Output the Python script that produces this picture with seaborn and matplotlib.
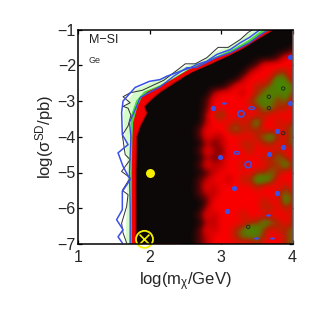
import numpy as np
import seaborn as sns
import matplotlib
matplotlib.use('Agg')
import matplotlib.pyplot as plt
from matplotlib.colors import LinearSegmentedColormap
from matplotlib.patches import Polygon
from matplotlib.path import Path
from matplotlib.transforms import Affine2D

# red / green likelihood field, columns x=2.5..4.0 step .1, rows y=-1..-7 step .2
# 0 black, 1-2 dark red, 3 red, 4-6 towards olive green
field_x = [2.5, 2.6, 2.7, 2.8, 2.9, 3.0, 3.1, 3.2, 3.3, 3.4, 3.5, 3.6, 3.7, 3.8, 3.9, 4.0]
field_y = [-1.0 - 0.2 * i for i in range(31)]
field = [
    [0, 0, 0, 0, 0, 0, 0, 0, 0, 0, 0, 0, 0, 0, 0, 0],
    [0, 0, 0, 0, 0, 0, 0, 0, 0, 0, 0, 0, 0, 0, 0, 0],
    [0, 0, 0, 0, 0, 0, 0, 0, 0, 0, 0, 0, 0, 0, 0, 0],
    [0, 0, 0, 0, 0, 0, 0, 0, 0, 0, 0, 0, 0, 0, 0, 1],
    [0, 0, 0, 0, 0, 0, 0, 0, 0, 0, 0, 0, 0, 1, 3, 3],
    [0, 0, 0, 0, 0, 0, 0, 0, 0, 0, 1, 3, 3, 3, 3, 3],
    [0, 0, 0, 0, 0, 0, 0, 0, 0, 2, 3, 3, 3, 4, 4, 3],
    [0, 0, 0, 0, 0, 0, 0, 0, 2, 3, 3, 3, 4, 6, 5, 3],
    [0, 0, 0, 0, 0, 0, 1, 3, 3, 3, 4, 4, 5, 6, 6, 5],
    [0, 0, 0, 0, 2, 3, 3, 3, 2, 3, 4, 5, 6, 5, 6, 4],
    [0, 0, 0, 1, 3, 3, 3, 3, 3, 4, 5, 6, 5, 4, 5, 3],
    [0, 0, 0, 1, 3, 3, 3, 3, 3, 3, 4, 5, 5, 4, 4, 3],
    [0, 0, 0, 2, 4, 5, 3, 3, 4, 3, 3, 4, 3, 3, 3, 3],
    [0, 0, 0, 2, 3, 3, 3, 4, 3, 4, 6, 3, 3, 4, 3, 4],
    [0, 0, 1, 3, 3, 3, 4, 5, 4, 4, 4, 3, 3, 3, 4, 5],
    [0, 0, 1, 3, 2, 2, 3, 3, 3, 3, 4, 5, 6, 4, 3, 5],
    [0, 0, 0, 2, 1, 2, 3, 3, 4, 4, 3, 4, 4, 3, 4, 5],
    [0, 0, 1, 3, 2, 1, 3, 3, 3, 4, 3, 3, 3, 4, 3, 3],
    [0, 0, 0, 2, 1, 2, 3, 3, 3, 3, 3, 4, 4, 5, 4, 3],
    [0, 0, 1, 3, 2, 2, 3, 3, 4, 3, 3, 3, 4, 4, 6, 4],
    [0, 0, 0, 1, 2, 3, 3, 3, 3, 3, 4, 4, 5, 4, 3, 3],
    [0, 0, 1, 2, 3, 3, 2, 3, 4, 4, 6, 6, 5, 3, 3, 3],
    [0, 0, 1, 3, 2, 3, 3, 3, 3, 3, 4, 3, 3, 3, 4, 3],
    [0, 0, 1, 2, 2, 3, 3, 3, 3, 3, 3, 3, 3, 4, 5, 4],
    [0, 0, 0, 1, 3, 3, 3, 3, 3, 3, 3, 4, 3, 3, 6, 4],
    [0, 0, 0, 2, 3, 3, 3, 3, 3, 3, 3, 4, 4, 3, 4, 3],
    [0, 0, 1, 3, 2, 3, 3, 3, 4, 3, 3, 3, 3, 3, 3, 4],
    [0, 0, 0, 2, 2, 3, 3, 3, 3, 4, 4, 6, 5, 4, 3, 4],
    [0, 0, 1, 3, 2, 3, 3, 4, 5, 6, 6, 4, 3, 4, 4, 5],
    [0, 0, 1, 2, 3, 3, 3, 4, 5, 5, 5, 4, 3, 3, 4, 5],
    [0, 0, 1, 2, 3, 3, 3, 3, 3, 3, 4, 3, 3, 3, 4, 5],
]

# nested regions, edge read bottom-left, up, then along the top
light_x = [1.67, 1.69, 1.70, 1.67, 1.64, 1.70, 1.82, 2.05, 2.30, 2.50, 2.70, 2.95, 3.15, 3.32, 3.50, 4, 4]
light_y = [-7, -6, -5, -4, -3.4, -3, -2.68, -2.48, -2.25, -2.05, -1.92, -1.62, -1.45, -1.2, -1, -1, -7]
green_x = [1.73, 1.74, 1.74, 1.74, 1.75, 1.82, 1.93, 2.14, 2.35, 2.55, 2.78, 2.98, 3.18, 3.38, 3.60, 4, 4]
green_y = [-7, -6, -5, -4, -3.4, -3, -2.75, -2.58, -2.36, -2.12, -1.91, -1.73, -1.55, -1.32, -1, -1, -7]
red_x = [1.76, 1.76, 1.77, 1.78, 1.84, 1.90, 1.98, 2.15, 2.35, 2.55, 2.80, 3.00, 3.20, 3.40, 3.55, 3.72, 4, 4]
red_y = [-7, -5, -4, -3.6, -3.15, -2.9, -2.75, -2.6, -2.38, -2.14, -1.92, -1.75, -1.6, -1.38, -1.15, -1, -1, -7]
black_x = [1.81, 1.81, 1.82, 1.87, 1.96, 1.93, 2.03, 2.15, 2.38, 2.60, 2.85, 3.10, 3.30, 3.50, 3.75, 4, 4]
black_y = [-7, -5, -4, -3.7, -3.35, -3.15, -2.95, -2.75, -2.45, -2.2, -1.98, -1.75, -1.55, -1.3, -1, -1, -7]

# contour lines
blue_outer_x = [1.62, 1.56, 1.63, 1.54, 1.62, 1.62, 1.73, 1.63, 1.56, 1.70, 1.62, 1.61, 1.63, 1.80, 2.00, 2.15,
                2.24, 2.43, 2.57, 2.66, 2.80, 2.94, 3.13, 3.27, 3.40, 3.55]
blue_outer_y = [-6.97, -6.8, -6.6, -6.32, -6.04, -5.53, -5.2, -4.83, -4.45, -4.22, -3.94, -3.33, -3.0, -2.62,
                -2.45, -2.4, -2.31, -2.17, -2.07, -1.98, -1.89, -1.7, -1.56, -1.37, -1.22, -1.0]
blue_inner_x = [1.73, 1.73, 1.72, 1.74, 1.72, 1.80, 1.87, 2.15, 2.33, 2.52, 2.66, 2.94, 3.13, 3.40, 3.66]
blue_inner_y = [-7, -6, -5, -4, -3.6, -3.24, -2.9, -2.6, -2.32, -2.07, -2.06, -1.78, -1.65, -1.37, -1.0]
black_line_x = [1.68, 1.63, 1.61, 1.68, 1.70, 1.62, 1.73, 1.61, 1.73, 1.66, 1.62, 1.70, 1.74, 1.70, 1.63, 1.73,
                1.63, 1.73, 1.90, 2.20, 2.43, 2.50, 2.64, 2.80, 2.96, 3.10, 3.27, 3.38, 3.45]
black_line_y = [-6.97, -6.69, -6.42, -5.95, -5.62, -5.5, -5.15, -4.97, -4.64, -4.5, -3.95, -3.7, -3.4, -3.2,
                -3.15, -3.05, -2.88, -2.77, -2.7, -2.42, -2.07, -1.96, -1.96, -1.79, -1.5, -1.5, -1.28, -1.08, -1.0]

# small isolated contours inside the red area
dot_x = [2.89, 3.97, 3.97, 3.18, 3.09, 3.78, 3.87, 3.67, 3.78, 2.99]
dot_y = [-3.2, -1.78, -3.05, -5.43, -6.07, -5.57, -4.3, -4.47, -3.83, -4.58]
wide_x = [3.04, 3.66, 3.71, 3.49]
wide_y = [-3.05, -6.2, -6.83, -6.83]
ring_x = [3.43, 3.22]
ring_y = [-3.2, -4.45]
round_ring_x = [3.28, 3.38]
round_ring_y = [-3.36, -4.78]
black_ring_x = [3.67, 3.67, 3.87, 3.38, 3.87]
black_ring_y = [-2.88, -3.2, -2.65, -6.52, -3.9]

best_x = [2.0]
best_y = [-5.0]
cross_x = [1.93]
cross_y = [-6.87]

x_ticks = [1, 2, 3, 4]
y_ticks = [-7, -6, -5, -4, -3, -2, -1]

sns.set_style('ticks')
plt.rcParams['font.family'] = ['Liberation Sans', 'DejaVu Sans']
plt.rcParams['mathtext.fontset'] = 'custom'
plt.rcParams['mathtext.rm'] = 'Liberation Sans'
plt.rcParams['mathtext.it'] = 'Liberation Sans'
plt.rcParams['mathtext.default'] = 'regular'

fig = plt.figure(figsize=(3.22, 3.22), dpi=100)
ax = fig.add_axes([78 / 322, 1 - 244 / 322, 214.5 / 322, 214.5 / 322])

ax.fill(light_x, light_y, color='#d4fbc8', lw=0.8, zorder=1)
ax.fill(green_x, green_y, color='#48d838', lw=0.8, zorder=1.1)
ax.fill(red_x, red_y, color='#f00000', lw=0.8, zorder=1.2)
black_poly = Polygon(list(zip(black_x, black_y)), closed=True, fc='#0c0808', ec='#a00000', lw=0.8, zorder=1.3)
ax.add_patch(black_poly)

cmap = LinearSegmentedColormap.from_list('field', [
    (0.0, '#0c0808'), (1 / 6, '#5a0404'), (2 / 6, '#c00000'), (3 / 6, '#fa0000'),
    (4 / 6, '#b02400'), (5 / 6, '#5f7000'), (1.0, '#3f8f00')])
img = ax.imshow(field, cmap=cmap, vmin=0, vmax=6, interpolation='bicubic', aspect='auto', zorder=1.4,
                extent=(field_x[0] - 0.05, field_x[-1] + 0.05, field_y[-1] - 0.1, field_y[0] + 0.1))
img.set_clip_path(Polygon(list(zip(black_x, black_y)), closed=True, transform=ax.transData))

blue = '#3a50e8'
sns.lineplot(x=black_line_x, y=black_line_y, sort=False, estimator=None, color='#303030', lw=0.7, ax=ax, zorder=3)
sns.lineplot(x=blue_inner_x, y=blue_inner_y, sort=False, estimator=None, color=blue, lw=1.0, ax=ax, zorder=3.1)
sns.lineplot(x=blue_outer_x, y=blue_outer_y, sort=False, estimator=None, color=blue, lw=1.1, ax=ax, zorder=3.2)

wide = Path.unit_circle().transformed(Affine2D().scale(2.0, 1.0))
sns.scatterplot(x=dot_x, y=dot_y, s=14, color=blue, linewidth=0, ax=ax, zorder=3)
sns.scatterplot(x=wide_x, y=wide_y, s=12, marker=wide, color=blue, linewidth=0, ax=ax, zorder=3)
sns.scatterplot(x=ring_x, y=ring_y, s=16, marker=wide, facecolor='none', edgecolor=blue, linewidth=1.0, ax=ax, zorder=3)
sns.scatterplot(x=round_ring_x, y=round_ring_y, s=20, facecolor='none', edgecolor=blue, linewidth=1.2, ax=ax, zorder=3)
sns.scatterplot(x=black_ring_x, y=black_ring_y, s=6, facecolor='none', edgecolor='#202020', linewidth=0.6, ax=ax, zorder=3)

sns.scatterplot(x=best_x, y=best_y, s=42, color='#f5f000', linewidth=0, ax=ax, zorder=4)
sns.scatterplot(x=cross_x, y=cross_y, s=150, facecolor='none', edgecolor='#f5f000', linewidth=1.3, ax=ax, zorder=4,
                clip_on=False)
sns.scatterplot(x=cross_x, y=cross_y, s=50, marker='x', color='#f5f000', linewidth=1.2, ax=ax, zorder=4, clip_on=False)

ax.text(1.15, -1.3, 'M\u2212SI', fontsize=9, va='center', ha='left', color='#202020')
ax.text(1.15, -1.87, 'Ge', fontsize=6.5, va='center', ha='left', color='#303030')

ax.set_xlim(1, 4)
ax.set_ylim(-7, -1)
ax.set_xticks(x_ticks)
ax.set_yticks(y_ticks)
ax.tick_params(direction='in', top=True, right=True, length=3, width=0.9, labelsize=11.5, color='black')
ax.tick_params(axis='x', pad=4)
ax.tick_params(axis='y', pad=1.5)
ax.set_xlabel(r'log(m$_{\chi}$/GeV)', fontsize=12, labelpad=4)
ax.set_ylabel(r'log($\sigma^{SD}$/pb)', fontsize=12, labelpad=1)
for s in ax.spines.values():
    s.set_linewidth(1.1)
    s.set_color('black')
    s.set_visible(True)
    s.set_zorder(5)
ax.spines['right'].set_color('#606060')

fig.savefig('out.png', dpi=100)
